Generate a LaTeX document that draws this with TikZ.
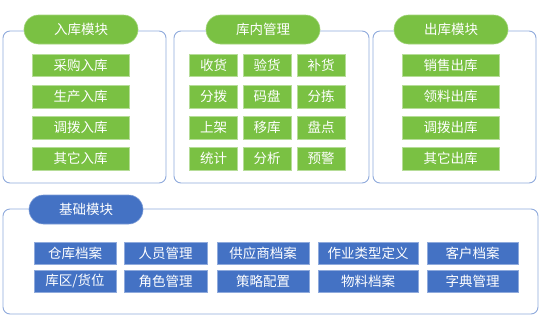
\documentclass[tikz,border=0pt]{standalone}
\usepackage{fontspec}
\newfontfamily\cjk{Noto Sans CJK SC}
\usepackage{tikz}
\usetikzlibrary{positioning}
\definecolor{leafgreen}{HTML}{7AC143}
\definecolor{baseblue}{HTML}{4472C4}
\definecolor{framegray}{HTML}{8FAADC}

\begin{document}
\begin{tikzpicture}[
  x=1pt, y=-1pt,
  frame/.style={rectangle, rounded corners=7pt, draw=framegray, line width=0.9pt,
                fill=white},
  pill/.style={rectangle, rounded corners=14.5pt, minimum width=114pt, minimum height=29pt,
               inner sep=0pt, text=white, font=\cjk\fontsize{13.5}{14}\selectfont},
  greenpill/.style={pill, fill=leafgreen, draw=leafgreen!70!white, line width=0.6pt},
  bluepill/.style={pill, fill=baseblue, draw=baseblue!70!white, line width=0.6pt},
  item/.style={rectangle, minimum height=22.5pt, inner sep=0pt, text=white,
               font=\cjk\fontsize{13.5}{14}\selectfont},
  greenitem/.style={item, fill=leafgreen, draw=leafgreen!55!white, line width=0.6pt},
  blueitem/.style={item, fill=baseblue, draw=baseblue!60!white, line width=0.6pt},
  node distance=8pt,
]
  \useasboundingbox (0,0) rectangle (541,317);

  % frames
  \node[frame, minimum width=163pt, minimum height=152pt] (inframe) at (84.5,107) {};
  \node[frame, minimum width=195pt, minimum height=152pt] (whframe) at (271.5,107) {};
  \node[frame, minimum width=163pt, minimum height=152pt] (outframe) at (454.5,107) {};
  \node[frame, minimum width=535pt, minimum height=105pt] (baseframe) at (270.5,261.5) {};

  % titles
  \node[greenpill] (intitle) at (81,29.5) {入库模块};
  \node[greenpill] (whtitle) at (263,29.5) {库内管理};
  \node[greenpill] (outtitle) at (451,29.5) {出库模块};
  \node[bluepill] (basetitle) at (86,209.5) {基础模块};

  % inbound
  \node[greenitem, minimum width=97pt] (in1) at (80.5,65.5) {采购入库};
  \node[greenitem, minimum width=97pt, below=of in1] (in2) {生产入库};
  \node[greenitem, minimum width=97pt, below=of in2] (in3) {调拨入库};
  \node[greenitem, minimum width=97pt, below=of in3] (in4) {其它入库};

  % warehouse
  \node[greenitem, minimum width=48pt] (wh11) at (213.5,65.5) {收货};
  \node[greenitem, minimum width=48pt] (wh12) at (267,65.5) {验货};
  \node[greenitem, minimum width=48pt] (wh13) at (321,65.5) {补货};
  \node[greenitem, minimum width=48pt, below=of wh11] (wh21) {分拨};
  \node[greenitem, minimum width=48pt, below=of wh12] (wh22) {码盘};
  \node[greenitem, minimum width=48pt, below=of wh13] (wh23) {分拣};
  \node[greenitem, minimum width=48pt, below=of wh21] (wh31) {上架};
  \node[greenitem, minimum width=48pt, below=of wh22] (wh32) {移库};
  \node[greenitem, minimum width=48pt, below=of wh23] (wh33) {盘点};
  \node[greenitem, minimum width=48pt, below=of wh31] (wh41) {统计};
  \node[greenitem, minimum width=48pt, below=of wh32] (wh42) {分析};
  \node[greenitem, minimum width=48pt, below=of wh33] (wh43) {预警};

  % outbound
  \node[greenitem, minimum width=97pt] (out1) at (450.5,65.5) {销售出库};
  \node[greenitem, minimum width=97pt, below=of out1] (out2) {领料出库};
  \node[greenitem, minimum width=97pt, below=of out2] (out3) {调拨出库};
  \node[greenitem, minimum width=97pt, below=of out3] (out4) {其它出库};

  % base
  \node[blueitem, minimum width=82pt] (base11) at (75,253.5) {仓库档案};
  \node[blueitem, minimum width=83pt] (base12) at (165.5,253.5) {人员管理};
  \node[blueitem, minimum width=92pt] (base13) at (263,253.5) {供应商档案};
  \node[blueitem, minimum width=100pt] (base14) at (368,253.5) {作业类型定义};
  \node[blueitem, minimum width=91pt] (base15) at (472.5,253.5) {客户档案};
  \node[blueitem, minimum width=82pt, below=4.5pt of base11] (base21) {库区/货位};
  \node[blueitem, minimum width=83pt, below=4.5pt of base12] (base22) {角色管理};
  \node[blueitem, minimum width=92pt, below=4.5pt of base13] (base23) {策略配置};
  \node[blueitem, minimum width=100pt, below=4.5pt of base14] (base24) {物料档案};
  \node[blueitem, minimum width=91pt, below=4.5pt of base15] (base25) {字典管理};
\end{tikzpicture}
\end{document}
